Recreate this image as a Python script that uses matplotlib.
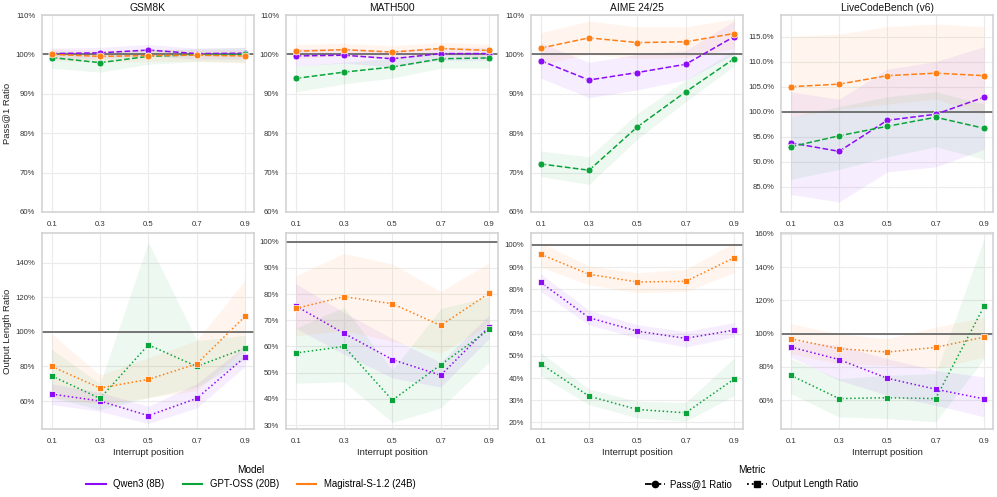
import numpy as np
import matplotlib
matplotlib.use("Agg")
import matplotlib.pyplot as plt
from matplotlib.lines import Line2D
from matplotlib.ticker import FuncFormatter

plt.rcParams['font.family'] = ['Liberation Sans', 'DejaVu Sans']

positions = [0.1, 0.3, 0.5, 0.7, 0.9]
benchmarks = ["GSM8K", "MATH500", "AIME 24/25", "LiveCodeBench (v6)"]
models = ["Qwen3 (8B)", "GPT-OSS (20B)", "Magistral-S-1.2 (24B)"]
colors = ["#8b0cf5", "#0ba43a", "#ff7f14"]

# Pass@1 ratio (%): mean, lower, upper per benchmark per model
pass_mean = {
    "GSM8K": [[100.2, 100.4, 101.1, 100.2, 100.3],
              [99.2, 97.9, 99.5, 99.9, 100.0],
              [100.0, 99.5, 99.7, 99.8, 99.6]],
    "MATH500": [[99.6, 99.8, 98.9, 100.2, 100.2],
                [93.9, 95.5, 96.8, 98.9, 99.1],
                [100.8, 101.2, 100.6, 101.5, 101.0]],
    "AIME 24/25": [[98.4, 93.5, 95.4, 97.5, 104.5],
                   [72.2, 70.6, 81.6, 90.5, 98.9],
                   [101.6, 104.2, 103.0, 103.2, 105.3]],
    "LiveCodeBench (v6)": [[93.8, 92.1, 98.3, 99.5, 102.9],
                           [93.0, 95.2, 97.1, 98.9, 96.7],
                           [105.0, 105.5, 107.2, 107.7, 107.2]],
}
pass_lo = {
    "GSM8K": [[98.8, 98.9, 99.6, 98.8, 98.8],
              [96.5, 95.5, 97.5, 98.2, 98.0],
              [98.5, 98.0, 98.2, 98.3, 97.8]],
    "MATH500": [[97.0, 97.8, 96.8, 98.5, 98.5],
                [90.5, 92.5, 94.0, 96.5, 96.5],
                [99.0, 99.5, 99.0, 99.8, 99.3]],
    "AIME 24/25": [[94.0, 89.0, 91.0, 93.5, 100.0],
                   [69.0, 67.0, 78.5, 88.0, 97.0],
                   [97.5, 100.0, 99.0, 99.2, 101.5]],
    "LiveCodeBench (v6)": [[83.5, 82.0, 88.0, 89.0, 92.5],
                           [86.5, 88.5, 91.0, 93.0, 90.5],
                           [99.0, 100.5, 101.5, 102.5, 99.5]],
}
pass_hi = {
    "GSM8K": [[101.6, 101.8, 102.5, 101.6, 101.8],
              [101.0, 100.2, 101.2, 101.5, 101.8],
              [101.4, 101.0, 101.2, 101.2, 101.2]],
    "MATH500": [[101.5, 101.5, 101.0, 101.8, 101.8],
                [97.0, 98.0, 99.0, 100.5, 100.5],
                [102.5, 102.8, 102.2, 103.0, 102.6]],
    "AIME 24/25": [[103.0, 98.0, 100.0, 101.0, 108.5],
                   [75.5, 74.0, 85.0, 93.5, 101.0],
                   [105.5, 108.5, 107.0, 107.0, 109.0]],
    "LiveCodeBench (v6)": [[104.0, 102.5, 108.5, 110.0, 113.0],
                           [99.0, 101.0, 103.0, 104.0, 101.5],
                           [115.0, 115.5, 117.0, 117.5, 117.0]],
}

# Output length ratio (%)
len_mean = {
    "GSM8K": [[64.0, 60.0, 51.5, 61.5, 85.5],
              [74.5, 61.5, 92.5, 80.0, 90.5],
              [80.0, 67.5, 72.5, 81.5, 109.0]],
    "MATH500": [[75.5, 65.0, 55.0, 49.0, 67.5],
                [57.5, 60.0, 39.5, 53.0, 66.5],
                [74.5, 79.0, 76.3, 68.0, 80.3]],
    "AIME 24/25": [[83.1, 67.2, 61.1, 57.9, 61.6],
                   [46.4, 31.8, 25.8, 24.3, 39.5],
                   [95.8, 86.8, 83.3, 83.6, 94.2]],
    "LiveCodeBench (v6)": [[92.0, 84.5, 73.2, 66.6, 60.8],
                           [75.0, 61.0, 61.5, 61.0, 116.5],
                           [97.0, 91.0, 89.0, 91.8, 98.0]],
}
len_lo = {
    "GSM8K": [[58.0, 54.0, 47.0, 56.0, 80.0],
              [62.0, 55.0, 62.0, 68.0, 84.0],
              [62.0, 58.0, 62.0, 66.0, 90.0]],
    "MATH500": [[67.0, 57.0, 48.0, 44.5, 63.0],
                [46.0, 46.5, 31.0, 36.5, 54.0],
                [64.0, 66.0, 62.0, 57.5, 68.0]],
    "AIME 24/25": [[79.0, 64.0, 58.0, 54.0, 58.5],
                   [41.0, 28.0, 22.0, 20.5, 32.0],
                   [90.0, 82.0, 78.5, 79.0, 87.5]],
    "LiveCodeBench (v6)": [[86.0, 72.0, 63.0, 57.0, 50.0],
                           [64.0, 50.0, 49.0, 47.0, 85.0],
                           [88.0, 82.0, 81.0, 79.0, 86.0]],
}
len_hi = {
    "GSM8K": [[70.0, 65.0, 57.0, 70.0, 92.0],
              [90.0, 70.0, 152.0, 95.0, 98.0],
              [99.0, 75.0, 85.0, 95.0, 130.0]],
    "MATH500": [[84.0, 73.0, 63.0, 54.0, 72.0],
                [67.0, 75.0, 51.0, 74.5, 79.0],
                [87.0, 95.5, 91.5, 81.0, 92.0]],
    "AIME 24/25": [[87.0, 70.5, 64.0, 61.0, 65.0],
                   [51.5, 35.0, 29.5, 29.0, 49.0],
                   [101.0, 90.5, 87.5, 89.0, 101.0]],
    "LiveCodeBench (v6)": [[96.0, 93.0, 85.0, 78.0, 74.0],
                           [85.0, 73.0, 75.0, 76.0, 157.0],
                           [106.0, 100.0, 97.0, 104.0, 110.0]],
}

pass_ylim = {"GSM8K": (60, 110), "MATH500": (60, 110), "AIME 24/25": (60, 110),
             "LiveCodeBench (v6)": (80.0, 119.3)}
pass_ticks = {"GSM8K": np.arange(60, 111, 10), "MATH500": np.arange(60, 111, 10),
              "AIME 24/25": np.arange(60, 111, 10),
              "LiveCodeBench (v6)": np.arange(85, 116, 5)}
len_ylim = {"GSM8K": (43.8, 157.2), "MATH500": (28.5, 103.3),
            "AIME 24/25": (17.0, 105.4), "LiveCodeBench (v6)": (42.7, 160.6)}
len_ticks = {"GSM8K": np.arange(60, 141, 20), "MATH500": np.arange(30, 101, 10),
             "AIME 24/25": np.arange(20, 101, 10), "LiveCodeBench (v6)": np.arange(60, 161, 20)}

W, H = 997, 497
fig = plt.figure(figsize=(W / 100, H / 100), dpi=100)

lefts = [42, 286, 531, 781]
pw = 212
row_tops = [15, 233]
row_bots = [212, 429]

grid_c = "#ebebeb"
spine_c = "#d0d0d0"
tick_fs = 5.6
lab_fs = 6.8

def style(ax):
    ax.set_facecolor("white")
    ax.grid(True, color=grid_c, linewidth=0.8)
    ax.set_axisbelow(True)
    for s in ax.spines.values():
        s.set_color(spine_c)
        s.set_linewidth(1.1)
    ax.tick_params(axis="y", length=0, labelsize=tick_fs, colors="#333333", pad=4.8)
    ax.tick_params(axis="x", length=0, labelsize=tick_fs, colors="#333333", pad=6.3)
    ax.set_xlim(0.06, 0.937)
    ax.set_xticks(positions)
    ax.set_xticklabels([f"{p:.1f}" for p in positions])

for j, b in enumerate(benchmarks):
    for r in range(2):
        x0 = lefts[j] / W
        y0 = 1 - row_bots[r] / H
        h = (row_bots[r] - row_tops[r]) / H
        ax = fig.add_axes([x0, y0, pw / W, h])
        style(ax)
        if r == 0:
            mean, lo, hi = pass_mean[b], pass_lo[b], pass_hi[b]
            ls, mk, ms = "--", "o", 5.0
        else:
            mean, lo, hi = len_mean[b], len_lo[b], len_hi[b]
            ls, mk, ms = ":", "s", 5.0
        ax.axhline(100, color="#6b6b6b", linewidth=1.3, zorder=2)
        for m in range(3):
            ax.fill_between(positions, lo[m], hi[m], color=colors[m], alpha=0.07,
                            linewidth=0, zorder=1)
            ax.plot(positions, mean[m], linestyle=ls, marker=mk, color=colors[m],
                    markersize=ms, linewidth=1.1, markeredgecolor="white",
                    markeredgewidth=0.5, zorder=3)
        if r == 0:
            ax.set_ylim(*pass_ylim[b])
            ax.set_yticks(pass_ticks[b])
            if b == "LiveCodeBench (v6)":
                ax.yaxis.set_major_formatter(FuncFormatter(lambda v, p: f"{v:.1f}%"))
            else:
                ax.yaxis.set_major_formatter(FuncFormatter(lambda v, p: f"{v:.0f}%"))
            ax.set_title(b, fontsize=7.4, pad=3, color="#111111")
            if j == 0:
                ax.set_ylabel("Pass@1 Ratio", fontsize=lab_fs, color="#222222")
                ax.yaxis.set_label_coords(-0.143, 0.5)
        else:
            ax.set_ylim(*len_ylim[b])
            ax.set_yticks(len_ticks[b])
            ax.yaxis.set_major_formatter(FuncFormatter(lambda v, p: f"{v:.0f}%"))
            ax.set_xlabel("Interrupt position", fontsize=lab_fs, color="#222222", labelpad=2)
            if j == 0:
                ax.set_ylabel("Output Length Ratio", fontsize=lab_fs, color="#222222")
                ax.yaxis.set_label_coords(-0.143, 0.5)

# Legends
model_handles = [Line2D([0], [0], color=c, linewidth=1.5) for c in colors]
leg1 = fig.legend(model_handles, models, title="Model", loc="center",
                  bbox_to_anchor=(251 / W, 1 - 477 / H), ncol=3, frameon=False,
                  fontsize=6.9, title_fontsize=7.2, handlelength=2.0, columnspacing=1.9,
                  handletextpad=0.8)
metric_handles = [Line2D([0], [0], color="black", linestyle="--", marker="o", markersize=4.5, linewidth=1.3),
                  Line2D([0], [0], color="black", linestyle=":", marker="s", markersize=4.5, linewidth=1.3)]
leg2 = fig.legend(metric_handles, ["Pass@1 Ratio", "Output Length Ratio"], title="Metric",
                  loc="center", bbox_to_anchor=(752 / W, 1 - 477 / H), ncol=2, frameon=False,
                  fontsize=6.9, title_fontsize=7.2, handlelength=2.0, columnspacing=1.6,
                  handletextpad=0.6)

fig.savefig("out.png", dpi=100, facecolor="white")
